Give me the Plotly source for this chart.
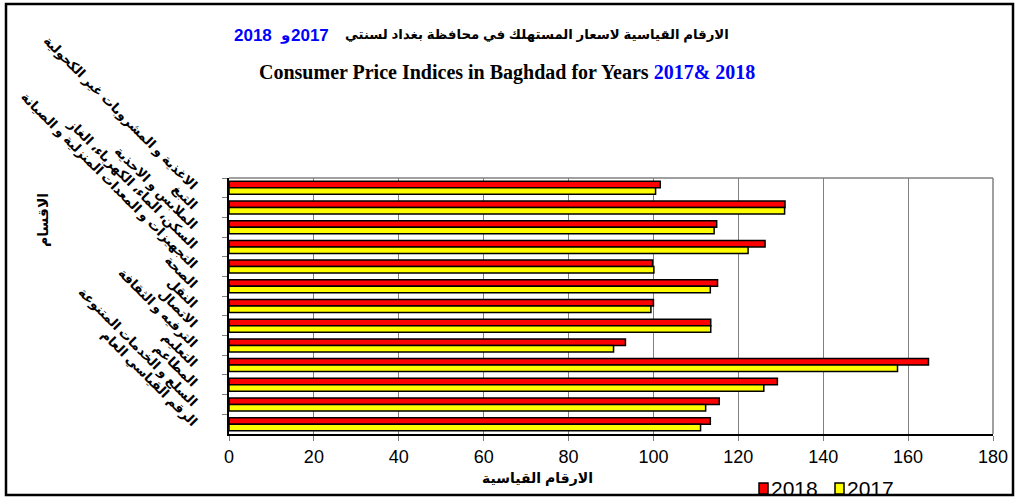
import plotly.graph_objects as go

categories = [
    "الاغذية و المشروبات غير الكحولية",
    "التبغ",
    "الملابس و الاحذية",
    "السكن، الماء، الكهرباء، الغاز",
    "التجهيزات و المعدات المنزلية و الصيانة",
    "الصحة",
    "النقل",
    "الاتصال",
    "الترفيه و الثقافة",
    "التعليم",
    "المطاعم",
    "السلع و الخدمات المتنوعة",
    "الرقم القياسي العام",
]
values_2018 = [101.6, 131.0, 114.9, 126.3, 99.8, 115.1, 100.0, 113.5, 93.4, 164.8, 129.2, 115.5, 113.4]
values_2017 = [100.5, 130.9, 114.3, 122.3, 100.1, 113.4, 99.4, 113.5, 90.6, 157.5, 126.0, 112.3, 111.1]
series_names = ["2018", "2017"]
series_colors = ["#FF0000", "#FFFF00"]
x_ticks = [0, 20, 40, 60, 80, 100, 120, 140, 160, 180]

AR = "Arial, 'Liberation Sans', 'DejaVu Sans', sans-serif"

fig = go.Figure()
for name, vals, col in zip(series_names, [values_2018, values_2017], series_colors):
    fig.add_trace(go.Bar(y=categories, x=vals, name=name, orientation="h",
                         marker=dict(color=col, line=dict(color="black", width=1.5))))

L, R, T, B = 229, 993, 178, 434
W, H = 1018, 502

def px(xp):
    return (xp - L) / (R - L)

def py(yp):
    return (B - yp) / (B - T)

fig.update_layout(
    width=W, height=H,
    margin=dict(l=L, r=W - R, t=T, b=H - B, autoexpand=False),
    barmode="group", bargap=0.34, bargroupgap=0,
    plot_bgcolor="white", paper_bgcolor="white",
    font=dict(family=AR, size=13, color="black"),
    showlegend=False,
)
fig.update_xaxes(range=[0, 180], tickvals=x_ticks, ticktext=[str(v) for v in x_ticks],
                 showgrid=True, gridcolor="#808080", gridwidth=1,
                 showline=True, linecolor="black", linewidth=2,
                 ticks="outside", ticklen=5, tickcolor="#808080",
                 tickfont=dict(family=AR, size=18), zeroline=False)
fig.update_yaxes(categoryorder="array", categoryarray=categories, autorange="reversed",
                 showline=True, linecolor="black", linewidth=2,
                 ticks="outside", tickson="boundaries", ticklen=5, tickcolor="#808080",
                 tickangle=45, ticklabelstandoff=28,
                 tickfont=dict(family=AR, size=13, color="black", weight="bold"),
                 automargin=False, showgrid=False)

# Plot area top/right border (gray)
fig.add_shape(type="line", xref="paper", yref="paper", x0=0, x1=1, y0=1, y1=1,
              line=dict(color="#808080", width=1.5))
fig.add_shape(type="line", xref="paper", yref="paper", x0=1, x1=1, y0=0, y1=1,
              line=dict(color="#808080", width=1.5))
# Outer chart frame
fig.add_shape(type="rect", xref="paper", yref="paper",
              x0=px(6), x1=px(1013), y0=py(495), y1=py(4),
              line=dict(color="black", width=2.5), layer="below")

# Manual legend (swatches + labels)
legend_x = [759, 835]
for name, col, lx in zip(series_names, series_colors, legend_x):
    fig.add_shape(type="rect", xref="paper", yref="paper",
                  x0=px(lx), x1=px(lx + 9), y0=py(494), y1=py(483),
                  fillcolor=col, line=dict(color="black", width=1.5))
    fig.add_annotation(xref="paper", yref="paper", x=px(lx + 10), y=py(488.5),
                       xanchor="left", yanchor="middle", text=name, showarrow=False,
                       font=dict(family=AR, size=21, color="black"))

# Titles
fig.add_annotation(xref="paper", yref="paper", x=px(731), y=py(35), xanchor="right", yanchor="middle",
                   text="<b>الارقام القياسية لاسعار المستهلك في محافظة بغداد لسنتي</b>",
                   showarrow=False, font=dict(family=AR, size=13.3, color="black"))
fig.add_annotation(xref="paper", yref="paper", x=px(232), y=py(35), xanchor="left", yanchor="middle",
                   text="<b>2018</b>", showarrow=False, font=dict(family=AR, size=17, color="#0000FF"))
fig.add_annotation(xref="paper", yref="paper", x=px(285), y=py(35), xanchor="center", yanchor="middle",
                   text="<b>و</b>", showarrow=False, font=dict(family=AR, size=15, color="#0000FF"))
fig.add_annotation(xref="paper", yref="paper", x=px(289), y=py(35), xanchor="left", yanchor="middle",
                   text="<b>2017</b>", showarrow=False, font=dict(family=AR, size=17, color="#0000FF"))
fig.add_annotation(xref="paper", yref="paper", x=px(507), y=py(72), xanchor="center", yanchor="middle",
                   text="<b>Consumer Price Indices in Baghdad for Years <span style='color:#0000FF'>2017& 2018</span></b>",
                   showarrow=False,
                   font=dict(family="'Times New Roman', 'Liberation Serif', serif", size=20, color="black"))
# Axis titles
fig.add_annotation(xref="paper", yref="paper", x=px(537), y=py(478), xanchor="center", yanchor="middle",
                   text="<b>الارقام القياسية</b>", showarrow=False,
                   font=dict(family=AR, size=14, color="black"))
fig.add_annotation(xref="paper", yref="paper", x=px(43), y=py(220), xanchor="center", yanchor="middle",
                   text="<b>الاقسام</b>", textangle=-90, showarrow=False,
                   font=dict(family=AR, size=14, color="black"))

fig.write_html("out.html", post_script="document.body.style.margin='0';",
               config={"displayModeBar": False})
